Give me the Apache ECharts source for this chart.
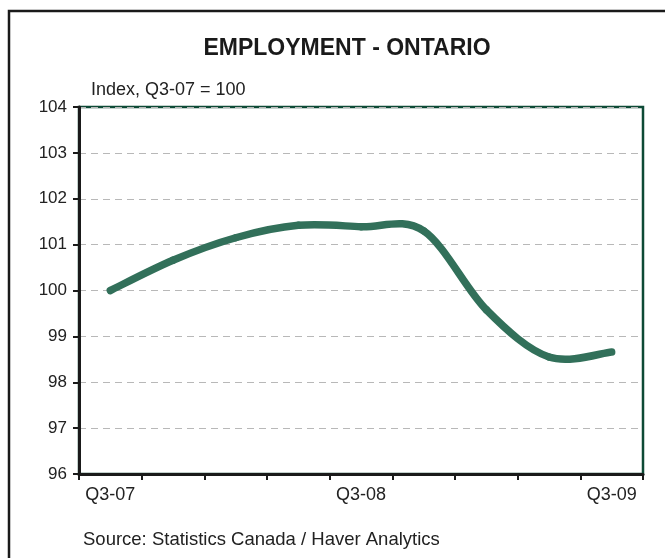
<!DOCTYPE html>
<html>
<head>
<meta charset="utf-8">
<script src="https://cdn.jsdelivr.net/npm/echarts@6/dist/echarts.min.js"></script>
<style>
  html, body { margin: 0; padding: 0; background: #fff; }
  #chart { width: 665px; height: 558px; }
</style>
</head>
<body>
<div id="chart"></div>
<script>
// Quarterly employment index for Ontario (Q3-07 = 100)
const quarters = ['Q3-07', 'Q4-07', 'Q1-08', 'Q2-08', 'Q3-08', 'Q4-08', 'Q1-09', 'Q2-09', 'Q3-09'];
const employmentIndex = [100, 100.66, 101.15, 101.42, 101.39, 101.3, 99.58, 98.55, 98.66];
const yTicks = { min: 96, max: 104, step: 1 };

const chart = echarts.init(document.getElementById('chart'), null, { renderer: 'canvas' });
const font = 'Liberation Sans, Arial, sans-serif';
const lineColor = '#32705a';

// One cubic Bezier per segment (Catmull-Rom style tangents), positioned via the axes.
function renderSmoothSegment(params, api) {
  const i = params.dataIndex;
  const n = employmentIndex.length;
  if (i >= n - 1) return null;
  const at = k => {
    const j = Math.max(0, Math.min(n - 1, k));
    return api.coord([j, employmentIndex[j]]);
  };
  const p0 = at(i - 1), p1 = at(i), p2 = at(i + 1), p3 = at(i + 2);
  return {
    type: 'bezierCurve',
    shape: {
      x1: p1[0], y1: p1[1], x2: p2[0], y2: p2[1],
      cpx1: p1[0] + (p2[0] - p0[0]) / 6, cpy1: p1[1] + (p2[1] - p0[1]) / 6,
      cpx2: p2[0] - (p3[0] - p1[0]) / 6, cpy2: p2[1] - (p3[1] - p1[1]) / 6
    },
    style: { stroke: lineColor, fill: null, lineWidth: 7.5, lineCap: 'round', lineJoin: 'round' }
  };
}

chart.setOption({
  animation: false,
  backgroundColor: '#fff',
  title: {
    text: 'EMPLOYMENT - ONTARIO',
    left: 342, top: 32, textAlign: 'center',
    textStyle: { fontFamily: font, fontSize: 23, fontWeight: 'bold', color: '#1a1a1a' }
  },
  graphic: [
    { type: 'rect', shape: { x: 9, y: 11, width: 680, height: 580 },
      style: { fill: null, stroke: '#1a1a1a', lineWidth: 2.5 }, silent: true },
    { type: 'text', left: 91, top: 81,
      style: { text: 'Index, Q3-07 = 100', fontFamily: font, fontSize: 18, fill: '#222' } },
    { type: 'text', left: 83, top: 530,
      style: { text: 'Source: Statistics Canada / Haver Analytics', fontFamily: font, fontSize: 18.5, fill: '#222' } }
  ],
  grid: {
    left: 79, right: 22, top: 107, bottom: 84,
    show: true, borderColor: '#0d4a36', borderWidth: 2.5, backgroundColor: '#fff'
  },
  xAxis: {
    type: 'category',
    data: quarters,
    boundaryGap: true,
    axisLine: { lineStyle: { color: '#1a1a1a', width: 3 } },
    axisTick: { show: true, length: 6, lineStyle: { color: '#1a1a1a', width: 2 }, interval: 0 },
    axisLabel: { interval: 3, margin: 12, fontFamily: font, fontSize: 18, color: '#222' },
    splitLine: { show: false }
  },
  yAxis: {
    type: 'value',
    min: yTicks.min, max: yTicks.max, interval: yTicks.step,
    axisLine: { show: true, lineStyle: { color: '#1a1a1a', width: 3 } },
    axisTick: { show: true, length: 6, lineStyle: { color: '#1a1a1a', width: 2 } },
    axisLabel: { margin: 12, fontFamily: font, fontSize: 17, color: '#222' },
    splitLine: { show: true, lineStyle: { color: '#b8b8b8', width: 1, type: [7, 5] } }
  },
  series: [{
    type: 'custom',
    data: employmentIndex.map((v, i) => [i, v]),
    encode: { x: 0, y: 1 },
    renderItem: renderSmoothSegment
  }]
});
</script>
</body>
</html>
